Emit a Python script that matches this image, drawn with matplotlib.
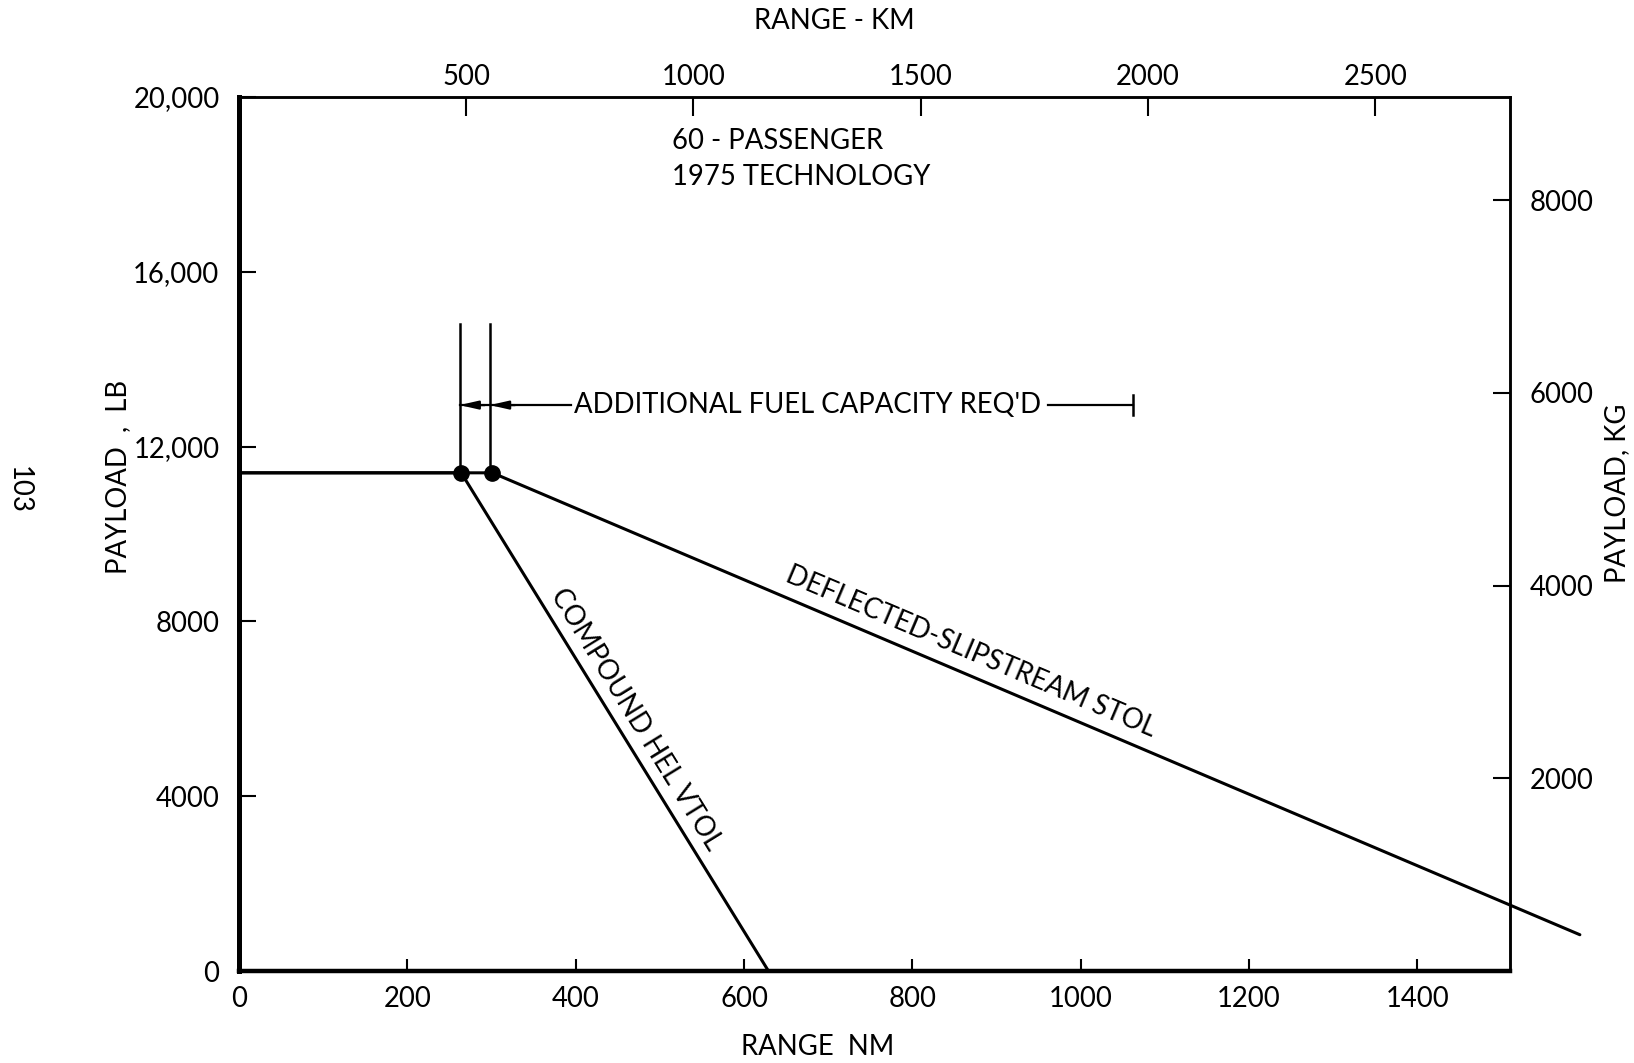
import matplotlib.pyplot as plt
import numpy as np

plt.rcParams['font.family'] = ['Lato', 'DejaVu Sans']

# payload-range lines (range in nautical miles, payload in lb)
compound_nm = [0, 264, 629]
compound_lb = [11400, 11400, 0]
stol_nm = [0, 301, 1593]
stol_lb = [11400, 11400, 830]

# design points and the extra-fuel markers
design_nm = [264, 301]
design_lb = [11400, 11400]
fuel_marks_nm = [262, 298]
fuel_mark_top = 14800
fuel_arrow_lb = 12950

x_ticks = [0, 200, 400, 600, 800, 1000, 1200, 1400]
y_ticks = [0, 4000, 8000, 12000, 16000, 20000]
y_ticklabels = ['0', '4000', '8000', '12,000', '16,000', '20,000']
km_ticks = [500, 1000, 1500, 2000, 2500]
kg_ticks = [2000, 4000, 6000, 8000]

NM_TO_KM = 1.852
KG_TO_LB = 2.20462
FS = 19.8

fig = plt.figure(figsize=(16.34, 10.63), dpi=100)
W, H = 1634, 1063
ax = fig.add_axes([239 / W, 92 / H, (1510 - 239) / W, (971 - 97) / H])
ax.set_xlim(0, 1510)
ax.set_ylim(0, 20000)

ax.plot(compound_nm, compound_lb, color='black', lw=2.2, clip_on=False, solid_capstyle='round')
ax.plot(stol_nm, stol_lb, color='black', lw=2.2, clip_on=False, solid_capstyle='round')
ax.plot(design_nm, design_lb, 'o', color='black', ms=11, clip_on=False)

for xm in fuel_marks_nm:
    ax.plot([xm, xm], [design_lb[0], fuel_mark_top], color='black', lw=1.8)

# arrow pointing back to the two fuel limits
ax.plot([fuel_marks_nm[0], 395], [fuel_arrow_lb] * 2, color='black', lw=1.6)
for xm in fuel_marks_nm:
    ax.annotate('', xy=(xm, fuel_arrow_lb), xytext=(xm + 30, fuel_arrow_lb),
                arrowprops=dict(arrowstyle='-|>,head_length=1.1,head_width=0.25',
                                color='black', lw=1.6, shrinkA=0, shrinkB=0))
ax.text(398, fuel_arrow_lb, "ADDITIONAL FUEL CAPACITY REQ'D", fontsize=FS,
        ha='left', va='center')
ax.plot([961, 1062], [fuel_arrow_lb] * 2, color='black', lw=1.6)
ax.plot([1062, 1062], [fuel_arrow_lb - 230, fuel_arrow_lb + 230], color='black', lw=1.8)

ax.text(515, 19000, '60 - PASSENGER', fontsize=FS, ha='left', va='center')
ax.text(515, 18160, '1975 TECHNOLOGY', fontsize=FS, ha='left', va='center')


def screen_angle(xs, ys):
    p = ax.transData.transform(np.column_stack([xs, ys]))
    return np.degrees(np.arctan2(p[1, 1] - p[0, 1], p[1, 0] - p[0, 0]))


ax.text(472, 5770, 'COMPOUND HEL VTOL', fontsize=FS, ha='center', va='center',
        rotation=screen_angle(compound_nm[1:], compound_lb[1:]), rotation_mode='anchor')
ax.text(870, 7300, 'DEFLECTED-SLIPSTREAM STOL', fontsize=FS, ha='center', va='center',
        rotation=screen_angle(stol_nm[1:], stol_lb[1:]), rotation_mode='anchor')

ax.set_xticks(x_ticks)
ax.set_yticks(y_ticks)
ax.set_yticklabels(y_ticklabels)
ax.tick_params(axis='x', direction='in', length=9, width=1.5, labelsize=FS, pad=11)
ax.tick_params(axis='y', direction='in', length=12, width=1.5, labelsize=FS, pad=14)

ax.spines['left'].set_linewidth(3.6)
ax.spines['bottom'].set_linewidth(3.2)
ax.spines['top'].set_linewidth(1.8)
ax.spines['right'].set_linewidth(1.8)

top = ax.secondary_xaxis('top', functions=(lambda x: x * NM_TO_KM, lambda x: x / NM_TO_KM))
top.set_xticks(km_ticks)
top.tick_params(direction='in', length=14, width=1.5, labelsize=FS, pad=5)
top.spines['top'].set_linewidth(1.8)

right = ax.secondary_yaxis('right', functions=(lambda y: y / KG_TO_LB, lambda y: y * KG_TO_LB))
right.set_yticks(kg_ticks)
right.tick_params(direction='in', length=12, width=1.5, labelsize=FS, pad=14)
right.spines['right'].set_linewidth(1.8)

fig.text(818 / W, 1 - 1047 / H, 'RANGE  NM', fontsize=FS, ha='center', va='center')
fig.text(834 / W, 1 - 21 / H, 'RANGE - KM', fontsize=FS, ha='center', va='center')
fig.text(118 / W, 1 - 477 / H, 'PAYLOAD  ,  LB', fontsize=FS, ha='center', va='center', rotation=90)
fig.text(1617 / W, 1 - 493 / H, 'PAYLOAD, KG', fontsize=FS, ha='center', va='center', rotation=90)
fig.text(19 / W, 1 - 490 / H, '103', fontsize=FS, ha='center', va='center', rotation=-90)

fig.savefig('out.png', dpi=100, facecolor='white')
